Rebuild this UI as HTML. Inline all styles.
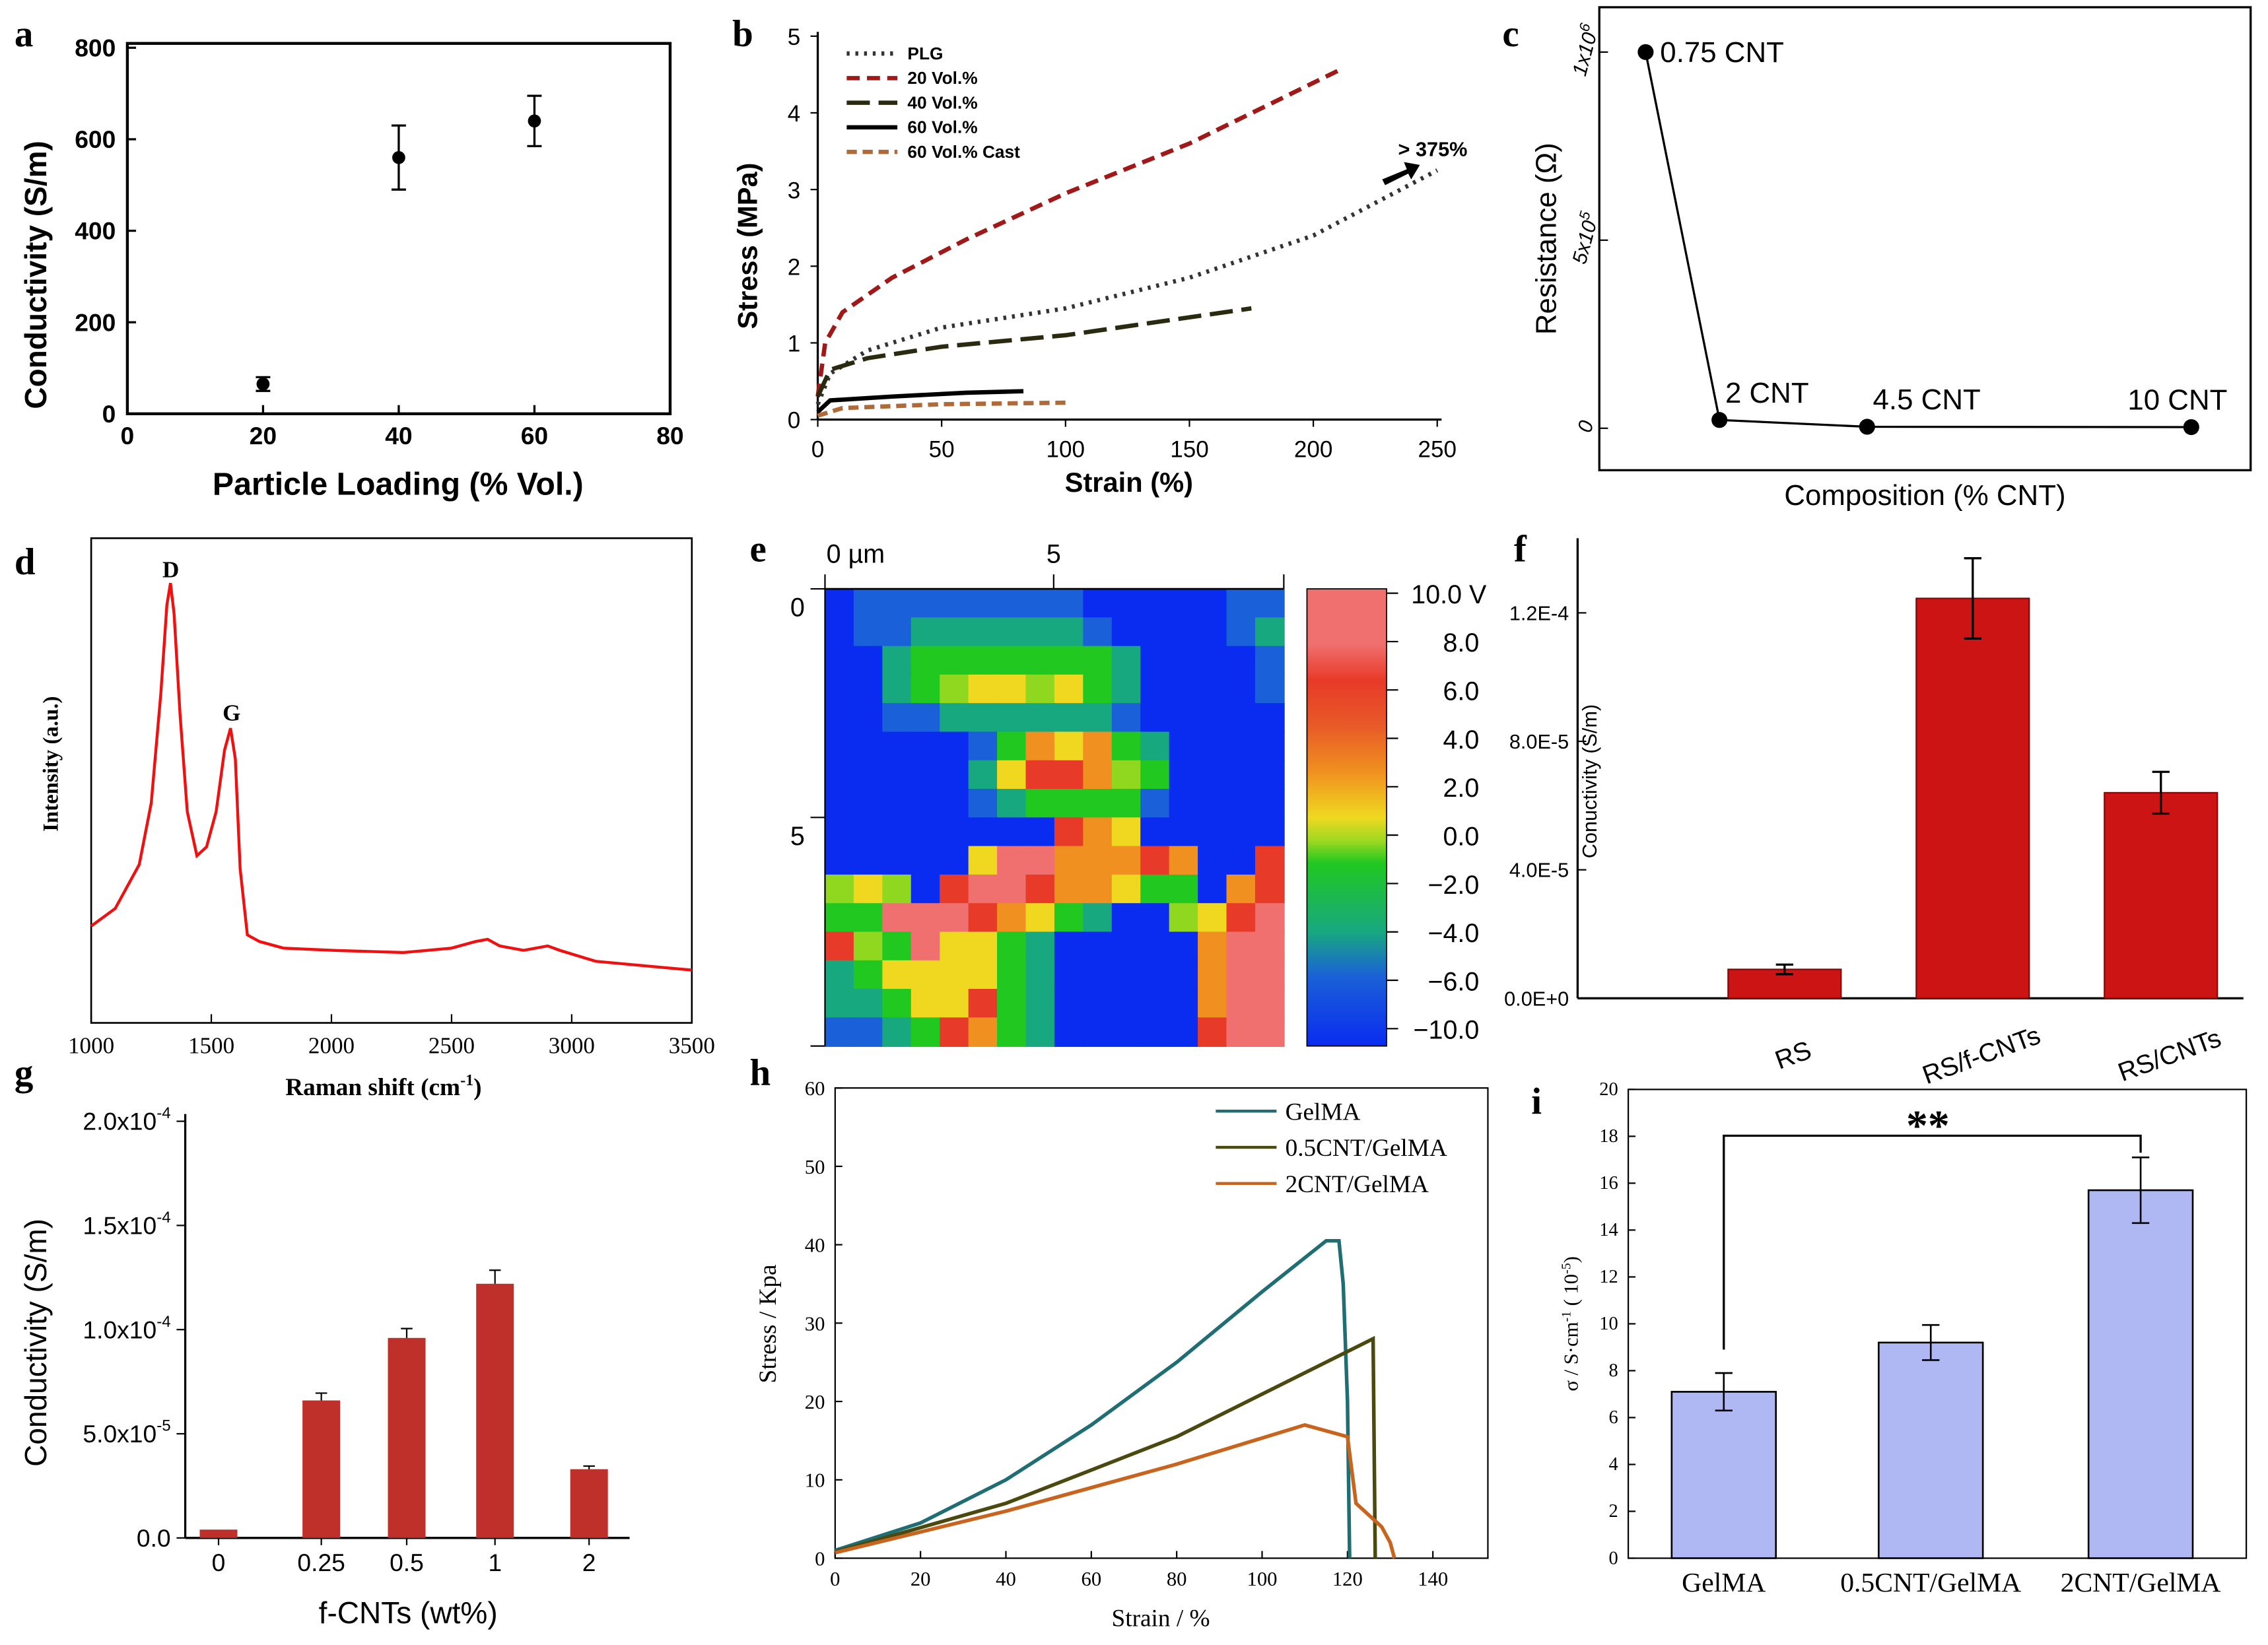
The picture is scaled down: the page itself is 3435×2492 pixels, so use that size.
<!DOCTYPE html>
<html><head><meta charset="utf-8"><style>
html,body{margin:0;padding:0;background:#fff}
svg{display:block}
text{font-family:"Liberation Sans",sans-serif}
.serif{font-family:"Liberation Serif",serif}
</style></head><body>
<svg id="fig" xmlns="http://www.w3.org/2000/svg" width="3435" height="2492" viewBox="0 0 1567 1137" preserveAspectRatio="none">
</svg>
<script>
// ---------- data ----------
const aLoad=[20,40,60], aCond=[65,560,640], aErr=[15,70,55];
const aXTicks=[0,20,40,60,80], aYTicks=[0,200,400,600,800];
const bPLGx=[0,5,20,50,100,150,200,250], bPLGy=[0.2,0.6,0.9,1.2,1.45,1.85,2.4,3.25];
const b20x=[0,3,10,30,60,100,150,210], b20y=[0.3,1.0,1.4,1.85,2.35,2.95,3.6,4.55];
const b40x=[0,5,20,50,100,175], b40y=[0.3,0.65,0.8,0.95,1.1,1.45];
const b60x=[0,5,30,60,83], b60y=[0.1,0.25,0.3,0.35,0.37];
const bCastx=[0,10,50,100], bCasty=[0.05,0.15,0.2,0.22];
const bXTicks=[0,50,100,150,200,250], bYTicks=[0,1,2,3,4,5];
const cLabels=["0.75 CNT","2 CNT","4.5 CNT","10 CNT"], cRes=[1000000,22000,4000,3000];
const dShift=[1000,1100,1200,1250,1290,1315,1330,1345,1370,1400,1440,1480,1520,1555,1580,1600,1620,1650,1700,1800,2000,2300,2500,2600,2650,2700,2800,2900,2950,3100,3500];
const dInt=[0.22,0.26,0.36,0.5,0.75,0.95,1.0,0.93,0.7,0.48,0.38,0.4,0.48,0.62,0.67,0.6,0.35,0.2,0.185,0.17,0.165,0.16,0.17,0.185,0.19,0.175,0.165,0.175,0.165,0.14,0.12];
const dXTicks=[1000,1500,2000,2500,3000,3500];
const eGrid=["0111111110000011","0112222221000012","0023333333200001","0023455453200001","0011222222100000","0000013656320000","0000025776430000","0000012333310000","0000000076500000","0000058866676007","4540788766533067","3388876532004578","7438553200000688","2355553200000688","2235573200000688","1123763200000788"];
const eCbTicks=["10.0 V","8.0","6.0","4.0","2.0","0.0","\u22122.0","\u22124.0","\u22126.0","\u221210.0"];
const fCats=["RS","RS/f-CNTs","RS/CNTs"], fVals=[0.9e-5,12.45e-5,6.4e-5], fErr=[0.15e-5,1.25e-5,0.65e-5];
const fTicks=[0,4e-5,8e-5,1.2e-4], fTickLabels=["0.0E+0","4.0E-5","8.0E-5","1.2E-4"];
const gCats=["0","0.25","0.5","1","2"], gVals=[0.4e-5,6.6e-5,9.6e-5,12.2e-5,3.3e-5], gErr=[0,0.35e-5,0.45e-5,0.65e-5,0.15e-5];
const gTicks=[0,5e-5,1e-4,1.5e-4,2e-4], gTickLabels=["0.0","5.0x10","1.0x10","1.5x10","2.0x10"], gTickExp=["","-5","-4","-4","-4"];
const hGx=[0,20,40,60,80,100,115,118,119,120,120.5], hGy=[1,4.5,10,17,25,34,40.5,40.5,35,20,0];
const h05x=[0,40,80,126,126.5], h05y=[0.8,7,15.5,28,0];
const h2x=[0,40,80,110,120,122,128,130,131], h2y=[0.7,6,12,17,15.5,7,4,2,0];
const hXTicks=[0,20,40,60,80,100,120,140], hYTicks=[0,10,20,30,40,50,60];
const iCats=["GelMA","0.5CNT/GelMA","2CNT/GelMA"], iVals=[7.1,9.2,15.7], iErr=[0.8,0.75,1.4];
const iYTicks=[0,2,4,6,8,10,12,14,16,18,20];

// ---------- helpers ----------
const svg=document.getElementById('fig');const NS="http://www.w3.org/2000/svg";
function el(tag,attrs,parent,txt){const e=document.createElementNS(NS,tag);for(const k in attrs)e.setAttribute(k,attrs[k]);if(txt!==undefined)e.textContent=txt;(parent||svg).appendChild(e);return e;}
function grp(name){const g=el('g',{});return g;}
function lin(d0,d1,r0,r1){return v=>r0+(v-d0)/(d1-d0)*(r1-r0);}
function poly(xs,ys,X,Y){return xs.map((v,i)=>X(v).toFixed(2)+','+Y(ys[i]).toFixed(2)).join(' ');}
function letter(t,x,y){const e=el('text',{x:x,y:y,'font-size':26,'font-weight':'bold',class:'serif'},svg,t);}

// ---------- panel a ----------
(function(){const g=grp('panel-a');const X=lin(0,80,88,463),Y=lin(0,800,286,33);
el('rect',{x:88,y:30,width:375,height:256,fill:'none',stroke:'#000','stroke-width':2},g);
aXTicks.forEach(t=>{el('line',{x1:X(t),x2:X(t),y1:286,y2:280,stroke:'#000','stroke-width':1.5},g);el('text',{x:X(t),y:307,'font-size':17,'font-weight':'bold','text-anchor':'middle'},g,t);});
aYTicks.forEach(t=>{el('line',{x1:88,x2:94,y1:Y(t),y2:Y(t),stroke:'#000','stroke-width':1.5},g);el('text',{x:80,y:Y(t)+6,'font-size':17,'font-weight':'bold','text-anchor':'end'},g,t);});
aLoad.forEach((v,i)=>{const p=grp('point-a-'+v);g.appendChild(p);el('line',{x1:X(v),x2:X(v),y1:Y(aCond[i]-aErr[i]),y2:Y(aCond[i]+aErr[i]),stroke:'#000','stroke-width':1.5},p);[aCond[i]-aErr[i],aCond[i]+aErr[i]].forEach(e=>el('line',{x1:X(v)-5,x2:X(v)+5,y1:Y(e),y2:Y(e),stroke:'#000','stroke-width':1.5},p));el('circle',{cx:X(v),cy:Y(aCond[i]),r:4.5,fill:'#000'},p);});
el('text',{x:275,y:342,'font-size':22,'font-weight':'bold','text-anchor':'middle'},g,'Particle Loading (% Vol.)');
el('text',{transform:'translate(32,190) rotate(-90)','font-size':21,'font-weight':'bold','text-anchor':'middle'},g,'Conductivity (S/m)');
})();
letter('a',10,32);

// ---------- panel b ----------
(function(){const g=grp('panel-b');const X=lin(0,250,565,993),Y=lin(0,5,290,25);
el('line',{x1:565,x2:565,y1:22,y2:290,stroke:'#000','stroke-width':1.5},g);el('line',{x1:565,x2:996,y1:290,y2:290,stroke:'#000','stroke-width':1.5},g);
bXTicks.forEach(t=>{el('line',{x1:X(t),x2:X(t),y1:290,y2:295,stroke:'#000'},g);el('text',{x:X(t),y:316,'font-size':16,'text-anchor':'middle'},g,t);});
bYTicks.forEach(t=>{el('line',{x1:560,x2:565,y1:Y(t),y2:Y(t),stroke:'#000'},g);el('text',{x:553,y:Y(t)+6,'font-size':16,'text-anchor':'end'},g,t);});
const S=[[bPLGx,bPLGy,'#333','2,4','PLG'],[b20x,b20y,'#a01818','9,5','20 Vol.%'],[b40x,b40y,'#2a2a10','16,6','40 Vol.%'],[b60x,b60y,'#000','','60 Vol.%'],[bCastx,bCasty,'#b06a3a','7,4','60 Vol.% Cast']];
S.forEach((s,i)=>{const p=el('polyline',{points:poly(s[0],s[1],X,Y),fill:'none',stroke:s[2],'stroke-width':3,'stroke-dasharray':s[3]},g);
const ly=37+i*17;el('line',{x1:585,x2:620,y1:ly,y2:ly,stroke:s[2],'stroke-width':3,'stroke-dasharray':s[3]},g);el('text',{x:627,y:ly+4,'font-size':12,'font-weight':'bold'},g,s[4]);});
el('path',{d:'M955,124 L972,117 L970,112 L981,114 L975,124 L973,120 L957,128Z',fill:'#000'},g);
el('text',{x:966,y:108,'font-size':14,'font-weight':'bold'},g,'> 375%');
el('text',{x:780,y:340,'font-size':19,'font-weight':'bold','text-anchor':'middle'},g,'Strain (%)');
el('text',{transform:'translate(523,170) rotate(-90)','font-size':19,'font-weight':'bold','text-anchor':'middle'},g,'Stress (MPa)');
})();
letter('b',506,32);

// ---------- panel c ----------
(function(){const g=grp('panel-c');const Y=lin(0,1e6,296,36);const xs=[1137,1188,1290,1514];
el('rect',{x:1105,y:5,width:450,height:320,fill:'none',stroke:'#000','stroke-width':1.5},g);
el('polyline',{points:cRes.map((v,i)=>xs[i]+','+Y(v)).join(' '),fill:'none',stroke:'#000','stroke-width':1.5},g);
cRes.forEach((v,i)=>{el('circle',{cx:xs[i],cy:Y(v),r:5.5,fill:'#000'},g);el('text',{x:xs[i]+(i==0?10:i==3?-44:4),y:Y(v)-(i==0?-7:12),'font-size':20},g,cLabels[i]);});
[[1e6,'1x10'],[5e5,'5x10'],[0,'0']].forEach(t=>{el('line',{x1:1105,x2:1111,y1:Y(t[0]),y2:Y(t[0]),stroke:'#000'},g);const tx=el('text',{transform:`translate(1100,${Y(t[0])}) rotate(-75)`,'font-size':14,'font-style':'italic','text-anchor':'middle'},g,t[1]);if(t[0])el('tspan',{'font-size':10,dy:-6},tx,t[0]==1e6?'6':'5');});
el('text',{x:1330,y:349,'font-size':20,'text-anchor':'middle'},g,'Composition (% CNT)');
el('text',{transform:'translate(1075,165) rotate(-90)','font-size':20,'text-anchor':'middle'},g,'Resistance (\u03a9)');
})();
letter('c',1038,32);

// ---------- panel d ----------
(function(){const g=grp('panel-d');const X=lin(1000,3500,63,478),Y=lin(0,1,707,403);
el('rect',{x:63,y:372,width:415,height:335,fill:'none',stroke:'#000','stroke-width':1.2},g);
dXTicks.forEach(t=>{el('line',{x1:X(t),x2:X(t),y1:707,y2:701,stroke:'#000'},g);el('text',{x:X(t),y:728,'font-size':16,'text-anchor':'middle',class:'serif'},g,t);});
const p=el('polyline',{points:poly(dShift,dInt,X,Y),fill:'none',stroke:'#f01010','stroke-width':2},g);
el('text',{x:118,y:399,'font-size':16,'font-weight':'bold','text-anchor':'middle',class:'serif'},g,'D');
el('text',{x:160,y:498,'font-size':16,'font-weight':'bold','text-anchor':'middle',class:'serif'},g,'G');
const xl=el('text',{x:265,y:757,'font-size':17,'font-weight':'bold','text-anchor':'middle',class:'serif'},g,'Raman shift (cm');el('tspan',{'font-size':11,dy:-7},xl,'-1');el('tspan',{dy:7},xl,')');
el('text',{transform:'translate(40,528) rotate(-90)','font-size':15,'font-weight':'bold','text-anchor':'middle',class:'serif'},g,'Intensity (a.u.)');
})();
letter('d',10,397);

// ---------- panel e ----------
(function(){const g=grp('panel-e');const x0=570,y0=407,W=317,H=316;const cols=['#0a2cf0','#1a60d8','#18a880','#20c820','#90d820','#f0d820','#f09020','#e83a28','#f07070'];
const nr=eGrid.length,nc=eGrid[0].length;
eGrid.forEach((row,r)=>{for(let c=0;c<nc;c++){const v=+row[c];el('rect',{x:x0+c*W/nc,y:y0+r*H/nr,width:W/nc+0.6,height:H/nr+0.6,fill:cols[v]},g);}});
el('line',{x1:x0,x2:x0+W,y1:y0,y2:y0,stroke:'#000','stroke-width':1.2},g);
[x0,728,x0+W].forEach(x=>el('line',{x1:x,x2:x,y1:y0-10,y2:y0,stroke:'#000'},g));
el('line',{x1:x0,x2:x0,y1:y0,y2:y0+H,stroke:'#000'},g);
[407,565,723].forEach(y=>el('line',{x1:x0-10,x2:x0,y1:y,y2:y,stroke:'#000'},g));
el('text',{x:571,y:389,'font-size':18},g,'0 \u00b5m');el('text',{x:728,y:389,'font-size':18,'text-anchor':'middle'},g,'5');
el('text',{x:556,y:426,'font-size':18,'text-anchor':'end'},g,'0');el('text',{x:556,y:584,'font-size':18,'text-anchor':'end'},g,'5');
const lg=el('linearGradient',{id:'cb',x1:0,y1:0,x2:0,y2:1},el('defs',{},g));
[[0,'#f07070'],[0.12,'#f07070'],[0.2,'#e83a28'],[0.3,'#e85a28'],[0.4,'#f09020'],[0.5,'#f0d820'],[0.55,'#a0d820'],[0.6,'#20c820'],[0.75,'#18a880'],[0.85,'#1a60d8'],[1,'#0a2cf0']].forEach(s=>el('stop',{offset:s[0],'stop-color':s[1]},lg));
el('rect',{x:903,y:407,width:55,height:316,fill:'url(#cb)',stroke:'#000','stroke-width':0.8},g);
eCbTicks.forEach((t,i)=>{const y=410+i*(711-410)/(eCbTicks.length-1);el('line',{x1:958,x2:966,y1:y,y2:y,stroke:'#000'},g);const isV=t.indexOf('V')>0;el('text',{x:isV?975:1022,y:y+7,'font-size':18,'text-anchor':isV?'start':'end'},g,t);});
})();
letter('e',518,388);

// ---------- panel f ----------
(function(){const g=grp('panel-f');const Y=lin(0,1e-4,690,468);const xs=[1233,1363,1493];
el('line',{x1:1090,x2:1090,y1:372,y2:690,stroke:'#000','stroke-width':1.5},g);el('line',{x1:1090,x2:1550,y1:690,y2:690,stroke:'#000','stroke-width':1.5},g);
fTicks.forEach((t,i)=>{el('line',{x1:1090,x2:1096,y1:Y(t),y2:Y(t),stroke:'#000'},g);el('text',{x:1084,y:Y(t)+5,'font-size':14,'text-anchor':'end'},g,fTickLabels[i]);});
fVals.forEach((v,i)=>{const b=el('rect',{x:xs[i]-39,y:Y(v),width:78,height:690-Y(v),fill:'#cc1414',stroke:'#7a0a0a','stroke-width':1},g);
const lo=Y(v-fErr[i]),hi=Y(v+fErr[i]);el('line',{x1:xs[i],x2:xs[i],y1:lo,y2:hi,stroke:'#000','stroke-width':1.5},g);[lo,hi].forEach(y=>el('line',{x1:xs[i]-6,x2:xs[i]+6,y1:y,y2:y,stroke:'#000','stroke-width':1.5},g));
el('text',{transform:`translate(${xs[i]+8},${735}) rotate(-20)`,'font-size':18,'text-anchor':'middle'},g,fCats[i]);});
el('text',{transform:'translate(1103,540) rotate(-90)','font-size':14,'text-anchor':'middle'},g,'Conuctivity (S/m)');
})();
letter('f',1046,388);

// ---------- panel g ----------
(function(){const g=grp('panel-g');const Y=lin(0,2e-4,1063,775);const xs=[151,222,281,342,407];
el('line',{x1:128,x2:128,y1:770,y2:1063,stroke:'#000','stroke-width':1.5},g);el('line',{x1:128,x2:435,y1:1063,y2:1063,stroke:'#000','stroke-width':1.5},g);
gTicks.forEach((t,i)=>{el('line',{x1:122,x2:128,y1:Y(t),y2:Y(t),stroke:'#000'},g);const tx=el('text',{x:118,y:Y(t)+6,'font-size':17,'text-anchor':'end'},g,gTickLabels[i]);if(gTickExp[i])el('tspan',{'font-size':11,dy:-8},tx,gTickExp[i]);});
gVals.forEach((v,i)=>{const b=el('rect',{x:xs[i]-13,y:Y(v),width:26,height:1063-Y(v),fill:'#c0302a'},g);
if(gErr[i]){const hi=Y(v+gErr[i]);el('line',{x1:xs[i],x2:xs[i],y1:Y(v),y2:hi,stroke:'#000'},g);el('line',{x1:xs[i]-4,x2:xs[i]+4,y1:hi,y2:hi,stroke:'#000'},g);}
el('line',{x1:xs[i],x2:xs[i],y1:1063,y2:1068,stroke:'#000'},g);el('text',{x:xs[i],y:1086,'font-size':17,'text-anchor':'middle'},g,gCats[i]);});
el('text',{x:282,y:1122,'font-size':21,'text-anchor':'middle'},g,'f-CNTs (wt%)');
el('text',{transform:'translate(32,928) rotate(-90)','font-size':21,'text-anchor':'middle'},g,'Conductivity (S/m)');
})();
letter('g',10,750);

// ---------- panel h ----------
(function(){const g=grp('panel-h');const X=lin(0,140,577,990),Y=lin(0,60,1077,752);
el('rect',{x:577,y:752,width:451,height:325,fill:'none',stroke:'#000','stroke-width':1},g);
hXTicks.forEach(t=>{el('line',{x1:X(t),x2:X(t),y1:1077,y2:1072,stroke:'#000'},g);el('text',{x:X(t),y:1096,'font-size':14,'text-anchor':'middle',class:'serif'},g,t);});
hYTicks.forEach(t=>{el('line',{x1:577,x2:582,y1:Y(t),y2:Y(t),stroke:'#000'},g);el('text',{x:570,y:Y(t)+5,'font-size':14,'text-anchor':'end',class:'serif'},g,t);});
[[hGx,hGy,'#1f6e74','GelMA'],[h05x,h05y,'#4a4a10','0.5CNT/GelMA'],[h2x,h2y,'#c8641e','2CNT/GelMA']].forEach((s,i)=>{const p=el('polyline',{points:poly(s[0],s[1],X,Y),fill:'none',stroke:s[2],'stroke-width':2.5},g);
const ly=768+i*25;el('line',{x1:840,x2:882,y1:ly,y2:ly,stroke:s[2],'stroke-width':2},g);el('text',{x:888,y:ly+6,'font-size':17,class:'serif'},g,s[3]);});
el('text',{x:802,y:1124,'font-size':17,'text-anchor':'middle',class:'serif'},g,'Strain / %');
el('text',{transform:'translate(536,915) rotate(-90)','font-size':17,'text-anchor':'middle',class:'serif'},g,'Stress / Kpa');
})();
letter('h',518,750);

// ---------- panel i ----------
(function(){const g=grp('panel-i');const Y=lin(0,20,1077,753);const xs=[1191,1334,1479];
el('rect',{x:1125,y:753,width:427,height:324,fill:'none',stroke:'#000','stroke-width':1},g);
iYTicks.forEach(t=>{el('line',{x1:1125,x2:1130,y1:Y(t),y2:Y(t),stroke:'#000'},g);el('text',{x:1118,y:Y(t)+4,'font-size':13,'text-anchor':'end',class:'serif'},g,t);});
iVals.forEach((v,i)=>{const b=el('rect',{x:xs[i]-36,y:Y(v),width:72,height:1077-Y(v),fill:'#b0b8f4',stroke:'#000','stroke-width':1.2},g);
const lo=Y(v-iErr[i]),hi=Y(v+iErr[i]);el('line',{x1:xs[i],x2:xs[i],y1:lo,y2:hi,stroke:'#000','stroke-width':1.2},g);[lo,hi].forEach(y=>el('line',{x1:xs[i]-6,x2:xs[i]+6,y1:y,y2:y,stroke:'#000','stroke-width':1.2},g));
el('text',{x:xs[i],y:1100,'font-size':19,'text-anchor':'middle',class:'serif'},g,iCats[i]);});
el('polyline',{points:`${xs[0]},${Y(iVals[0]+iErr[0]+1)} ${xs[0]},785 ${xs[2]},785 ${xs[2]},${Y(iVals[2]+iErr[2]+0.2)}`,fill:'none',stroke:'#000','stroke-width':1.5},g);
el('text',{x:1332,y:788,'font-size':30,'font-weight':'bold','text-anchor':'middle',class:'serif'},g,'**');
const yl=el('text',{transform:'translate(1090,915) rotate(-90)','font-size':14,'text-anchor':'middle',class:'serif'},g,'\u03c3 / S\u00b7cm');el('tspan',{'font-size':9,dy:-5},yl,'-1');el('tspan',{dy:5},yl,' ( 10');el('tspan',{'font-size':9,dy:-5},yl,'-5');el('tspan',{dy:5},yl,')');
})();
letter('i',1058,770);
</script>
</body></html>
